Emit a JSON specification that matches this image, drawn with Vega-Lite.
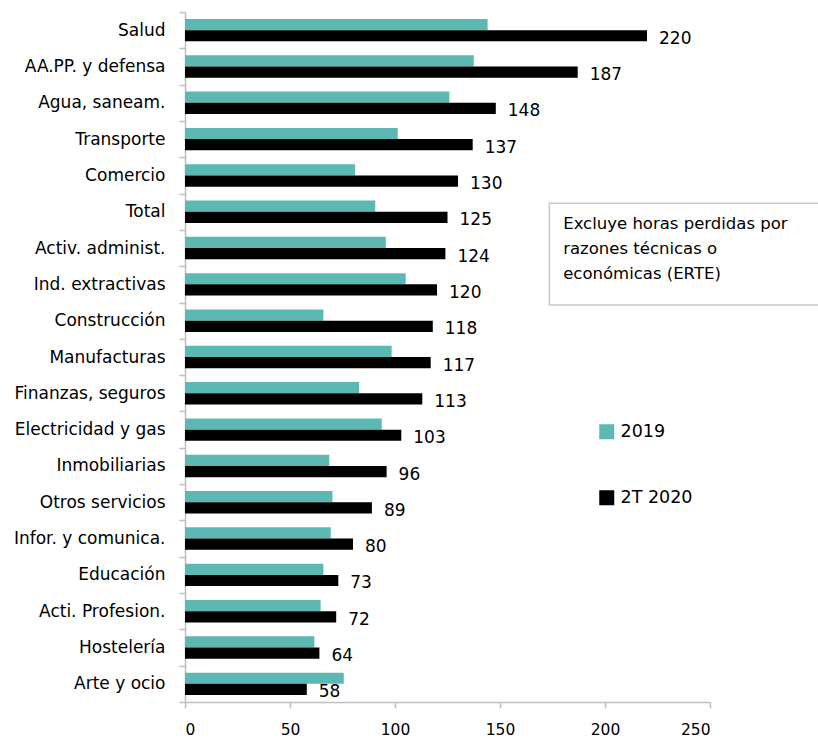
{
  "$schema": "https://vega.github.io/schema/vega-lite/v6.json",
  "width": 525,
  "height": 690,
  "autosize": {"type": "none"},
  "padding": {"left": 185, "top": 12, "right": 108, "bottom": 36},
  "background": "white",
  "config": {"view": {"stroke": null}, "font": "DejaVu Sans", "text": {"font": "DejaVu Sans"}},
  "datasets": {
    "horas": [
      {"cat": "Salud", "serie": "2019", "valor": 144.1},
      {"cat": "Salud", "serie": "2T 2020", "valor": 220},
      {"cat": "AA.PP. y defensa", "serie": "2019", "valor": 137.5},
      {"cat": "AA.PP. y defensa", "serie": "2T 2020", "valor": 187},
      {"cat": "Agua, saneam.", "serie": "2019", "valor": 125.9},
      {"cat": "Agua, saneam.", "serie": "2T 2020", "valor": 148},
      {"cat": "Transporte", "serie": "2019", "valor": 101.3},
      {"cat": "Transporte", "serie": "2T 2020", "valor": 137},
      {"cat": "Comercio", "serie": "2019", "valor": 81.0},
      {"cat": "Comercio", "serie": "2T 2020", "valor": 130},
      {"cat": "Total", "serie": "2019", "valor": 90.6},
      {"cat": "Total", "serie": "2T 2020", "valor": 125},
      {"cat": "Activ. administ.", "serie": "2019", "valor": 95.6},
      {"cat": "Activ. administ.", "serie": "2T 2020", "valor": 124},
      {"cat": "Ind. extractivas", "serie": "2019", "valor": 105.1},
      {"cat": "Ind. extractivas", "serie": "2T 2020", "valor": 120},
      {"cat": "Construcción", "serie": "2019", "valor": 65.9},
      {"cat": "Construcción", "serie": "2T 2020", "valor": 118},
      {"cat": "Manufacturas", "serie": "2019", "valor": 98.4},
      {"cat": "Manufacturas", "serie": "2T 2020", "valor": 117},
      {"cat": "Finanzas, seguros", "serie": "2019", "valor": 82.9},
      {"cat": "Finanzas, seguros", "serie": "2T 2020", "valor": 113},
      {"cat": "Electricidad y gas", "serie": "2019", "valor": 93.7},
      {"cat": "Electricidad y gas", "serie": "2T 2020", "valor": 103},
      {"cat": "Inmobiliarias", "serie": "2019", "valor": 68.7},
      {"cat": "Inmobiliarias", "serie": "2T 2020", "valor": 96},
      {"cat": "Otros servicios", "serie": "2019", "valor": 70.2},
      {"cat": "Otros servicios", "serie": "2T 2020", "valor": 89},
      {"cat": "Infor. y comunica.", "serie": "2019", "valor": 69.4},
      {"cat": "Infor. y comunica.", "serie": "2T 2020", "valor": 80},
      {"cat": "Educación", "serie": "2019", "valor": 65.9},
      {"cat": "Educación", "serie": "2T 2020", "valor": 73},
      {"cat": "Acti. Profesion.", "serie": "2019", "valor": 64.6},
      {"cat": "Acti. Profesion.", "serie": "2T 2020", "valor": 72},
      {"cat": "Hostelería", "serie": "2019", "valor": 61.6},
      {"cat": "Hostelería", "serie": "2T 2020", "valor": 64},
      {"cat": "Arte y ocio", "serie": "2019", "valor": 75.6},
      {"cat": "Arte y ocio", "serie": "2T 2020", "valor": 58}
    ]
  },
  "layer": [
    {
      "data": {"name": "horas"},
      "encoding": {
        "y": {
          "field": "cat", "type": "nominal",
          "sort": ["Salud", "AA.PP. y defensa", "Agua, saneam.", "Transporte", "Comercio", "Total", "Activ. administ.", "Ind. extractivas", "Construcción", "Manufacturas", "Finanzas, seguros", "Electricidad y gas", "Inmobiliarias", "Otros servicios", "Infor. y comunica.", "Educación", "Acti. Profesion.", "Hostelería", "Arte y ocio"],
          "scale": {"paddingInner": 0, "paddingOuter": 0},
          "axis": {"title": null, "domainColor": "#bfbfbf", "domainWidth": 1.5, "tickColor": "#bfbfbf", "tickWidth": 1.5, "tickSize": 6, "tickBand": "extent", "labelFontSize": 17, "labelColor": "#000000", "labelFont": "DejaVu Sans", "labelPadding": 14}
        },
        "yOffset": {"field": "serie", "type": "nominal", "scale": {"domain": ["2019", "2T 2020"], "paddingInner": 0, "paddingOuter": 0.62}},
        "x": {
          "field": "valor", "type": "quantitative",
          "scale": {"domain": [0, 250]},
          "axis": {"title": null, "values": [0, 50, 100, 150, 200, 250], "grid": false, "domainColor": "#bfbfbf", "domainWidth": 1.5, "tickColor": "#bfbfbf", "tickWidth": 1.5, "tickSize": 6, "labelFontSize": 15.5, "labelColor": "#000000", "labelFont": "DejaVu Sans", "labelPadding": 14}
        }
      },
      "layer": [
        {
          "mark": {"type": "bar"},
          "encoding": {
            "color": {
              "field": "serie", "type": "nominal",
              "scale": {"domain": ["2019", "2T 2020"], "range": ["#5cb8b2", "#000000"]},
              "legend": {"orient": "none", "legendX": 413, "legendY": 411, "title": null, "symbolType": "square", "symbolSize": 225, "symbolStrokeWidth": 0, "labelFontSize": 17.5, "labelFont": "DejaVu Sans", "labelColor": "#000000", "rowPadding": 47, "labelOffset": 5, "padding": 0, "direction": "vertical"}
            }
          }
        },
        {
          "transform": [{"filter": "datum.serie === '2T 2020'"}],
          "mark": {"type": "text", "align": "left", "baseline": "middle", "dx": 12, "dy": 3, "fontSize": 17, "font": "DejaVu Sans", "color": "#000000"},
          "encoding": {"text": {"field": "valor", "type": "quantitative", "format": ".0f"}}
        }
      ]
    },
    {
      "data": {"values": [{}]},
      "layer": [
        {
          "mark": {"type": "rect", "fill": "white", "stroke": "#c8c8c8", "strokeWidth": 1.5},
          "encoding": {
            "x": {"datum": 173.5, "type": "quantitative", "scale": {"domain": [0, 250]}},
            "x2": {"datum": 310},
            "y": {"datum": 0.7228, "type": "quantitative", "scale": {"domain": [0, 1]}, "axis": null},
            "y2": {"datum": 0.5754}
          }
        },
        {
          "mark": {"type": "text", "align": "left", "baseline": "top", "fontSize": 16.5, "font": "DejaVu Sans", "lineHeight": 25, "color": "#000000", "lineBreak": "\n", "text": "Excluye horas perdidas por\nrazones técnicas o\neconómicas (ERTE)"},
          "encoding": {
            "x": {"datum": 180.1, "type": "quantitative", "scale": {"domain": [0, 250]}},
            "y": {"datum": 0.704, "type": "quantitative", "scale": {"domain": [0, 1]}, "axis": null}
          }
        }
      ]
    }
  ],
  "resolve": {"scale": {"y": "independent"}}
}
